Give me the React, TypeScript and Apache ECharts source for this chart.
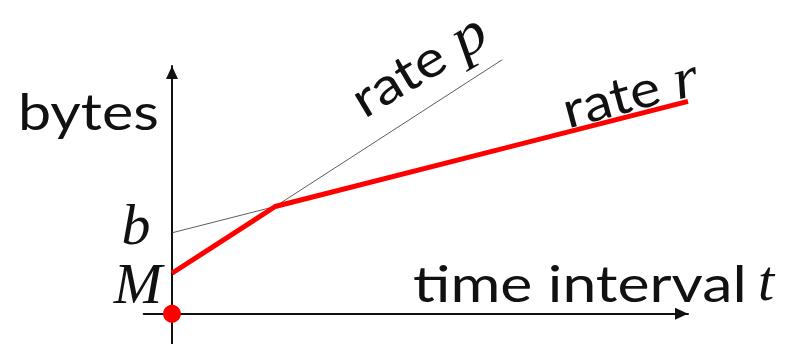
import React, { useEffect, useRef } from "react";
import * as echarts from "echarts";

// axis ranges (abstract units: time t, bytes)
const xRange = [-0.55, 10];
const yRange = [-3, 24.5];
// envelope: min(M + p t, b + r t)
const envelope = [
  [0, 4],
  [2, 10.6],
  [10, 21],
];
// token bucket line b + r t
const bucketLine = [
  [0, 8],
  [2, 10.6],
];
// peak line M + p t
const peakLine = [
  [0, 4],
  [6.4, 25.12],
];
const originPoint = [[0, 0]];

const yLabel = "bytes";
const xLabel = "time interval";
const xVar = "t";
const bLabel = "b";
const mLabel = "M";
const rateText = "rate ";
const pVar = "p";
const rVar = "r";

const SANS = "Lato";
const MATH = "Liberation Serif";

export default function App() {
  const ref = useRef<HTMLDivElement>(null);
  useEffect(() => {
    const chart = echarts.init(ref.current!, undefined, { renderer: "svg" });
    const italic = { fontFamily: MATH, fontStyle: "italic", fontSize: 58, fill: "#111", lineHeight: 40 };
    const axisLine = () => ({
      onZero: true,
      lineStyle: { color: "#111", width: 2 },
      symbol: ["none", "triangle"],
      symbolSize: [12, 13],
      symbolOffset: [0, -6.5],
    });
    chart.setOption({
      animation: false,
      grid: { left: 143.6, right: 120, top: 66, bottom: 0, containLabel: false },
      xAxis: {
        type: "value",
        min: xRange[0],
        max: xRange[1],
        axisLine: axisLine(),
        axisTick: { show: false },
        axisLabel: { show: false },
        splitLine: { show: false },
      },
      yAxis: {
        type: "value",
        min: yRange[0],
        max: yRange[1],
        axisLine: axisLine(),
        axisTick: { show: false },
        axisLabel: { show: false },
        splitLine: { show: false },
      },
      series: [
        {
          type: "line",
          data: peakLine,
          symbol: "none",
          clip: false,
          lineStyle: { color: "#333", width: 0.8 },
          z: 2,
        },
        {
          type: "line",
          data: bucketLine,
          symbol: "none",
          clip: false,
          lineStyle: { color: "#333", width: 0.8 },
          z: 2,
        },
        {
          type: "line",
          data: envelope,
          symbol: "none",
          clip: false,
          lineStyle: { color: "#ff0000", width: 5 },
          z: 3,
        },
        {
          type: "scatter",
          data: originPoint,
          symbolSize: 18,
          clip: false,
          itemStyle: { color: "#ff0000", opacity: 1 },
          z: 20,
        },
      ],
      graphic: [
        {
          type: "text",
          x: 18,
          y: 110,
          scaleX: 1.16,
          style: {
            text: yLabel,
            fontFamily: SANS,
            fontSize: 51,
            fill: "#111",
            textAlign: "left",
            textVerticalAlign: "middle",
          },
        },
        {
          type: "text",
          x: 413,
          y: 282,
          scaleX: 1.19,
          style: {
            text: xLabel,
            fontFamily: SANS,
            fontSize: 51,
            fill: "#111",
            textAlign: "left",
            textVerticalAlign: "middle",
          },
        },
        {
          type: "text",
          x: 766,
          y: 280,
          style: {
            text: xVar,
            ...italic,
            textAlign: "center",
            textVerticalAlign: "middle",
          },
        },
        {
          type: "text",
          x: 136,
          y: 224,
          style: {
            text: bLabel,
            ...italic,
            textAlign: "center",
            textVerticalAlign: "middle",
          },
        },
        {
          type: "text",
          x: 138,
          y: 283,
          style: {
            text: mLabel,
            ...italic,
            textAlign: "center",
            textVerticalAlign: "middle",
          },
        },
        {
          type: "text",
          x: 418,
          y: 64,
          rotation: (31 * Math.PI) / 180,
          scaleX: 1.14,
          style: {
            text: rateText + "{i|" + pVar + "}",
            fontFamily: SANS,
            fontSize: 51,
            lineHeight: 40,
            fill: "#111",
            textAlign: "center",
            textVerticalAlign: "middle",
            rich: { i: italic },
          },
        },
        {
          type: "text",
          x: 630,
          y: 92,
          rotation: (15 * Math.PI) / 180,
          scaleX: 1.12,
          style: {
            text: rateText + "{i|" + rVar + "}",
            fontFamily: SANS,
            fontSize: 51,
            lineHeight: 40,
            fill: "#111",
            textAlign: "center",
            textVerticalAlign: "middle",
            rich: { i: italic },
          },
        },
      ],
    });
    return () => chart.dispose();
  }, []);
  return (
    <div
      ref={ref}
      style={{ position: "fixed", left: 0, top: 0, width: 808, height: 344, background: "#fff" }}
    />
  );
}
